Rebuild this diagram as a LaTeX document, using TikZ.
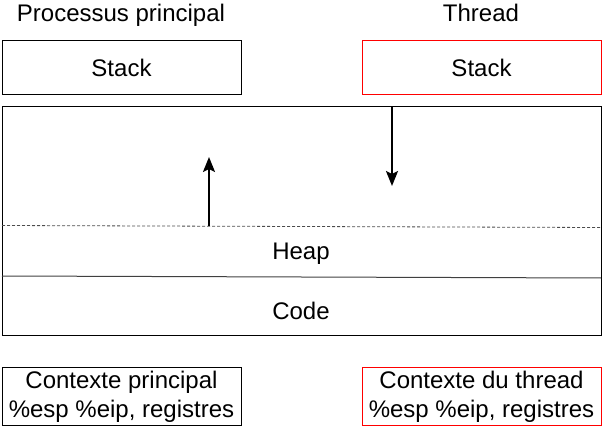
\documentclass[tikz,border=0pt]{standalone}
\usepackage{fontspec}
\setmainfont{Liberation Sans}
\usepackage{tikz}
\usetikzlibrary{arrows,arrows.meta,shapes}
\usetikzlibrary{positioning}
\usetikzlibrary{calc}

\begin{document}
\begin{tikzpicture}[x=1pt,y=-1pt,
        font=\fontsize{24}{29}\selectfont,
        box/.style={rectangle,draw=black,line width=1pt,minimum width=239pt,inner sep=0pt,align=center},
        redbox/.style={box,draw=red},
        title/.style={text height=17pt,text depth=5pt,inner sep=0pt},
        growarrow/.style={-{Stealth[length=15pt,width=12pt,inset=3pt]},line width=2.2pt}]
        \useasboundingbox (0,0) rectangle (604,427);
        % piles
        \node[box,minimum height=54pt]    (stackP) at (121.5,68) {Stack};
        \node[redbox,minimum height=54pt] (stackT) at (481.5,68) {Stack};
        \node[title] (titleP) at (121,16) {Processus principal};
        \node[title] (titleT) at (481,16) {Thread};
        % memoire
        \node[box,minimum width=599pt,minimum height=228pt] (mem) at (301.5,221) {};
        \node[title] (heap) at (301,253) {Heap};
        \node[title] (code) at (301,313) {Code};
        \coordinate (dashL) at (2,225.5);
        \coordinate (dashR) at (601,227.5);
        \coordinate (sepL) at (2,276);
        \coordinate (sepR) at (601,278);
        \draw[black!70,dash pattern=on 3pt off 2pt,line width=0.8pt] (dashL) -- (dashR);
        \draw[black!75,line width=1pt] (sepL) -- (sepR);
        % croissance
        \coordinate (upS) at (209,226);
        \coordinate (upE) at (209,157);
        \coordinate (downS) at (392,107);
        \coordinate (downE) at (392,186);
        \draw[growarrow] (upS) -- (upE);
        \draw[growarrow] (downS) -- (downE);
        % contextes
        \node[box,minimum height=58pt]    (ctxP) at (121.5,396) {\rule{0pt}{19pt}Contexte principal\\\%esp \%eip, registres};
        \node[redbox,minimum height=58pt] (ctxT) at (481.5,396) {\rule{0pt}{19pt}Contexte du thread\\\%esp \%eip, registres};
      \end{tikzpicture}
\end{document}
